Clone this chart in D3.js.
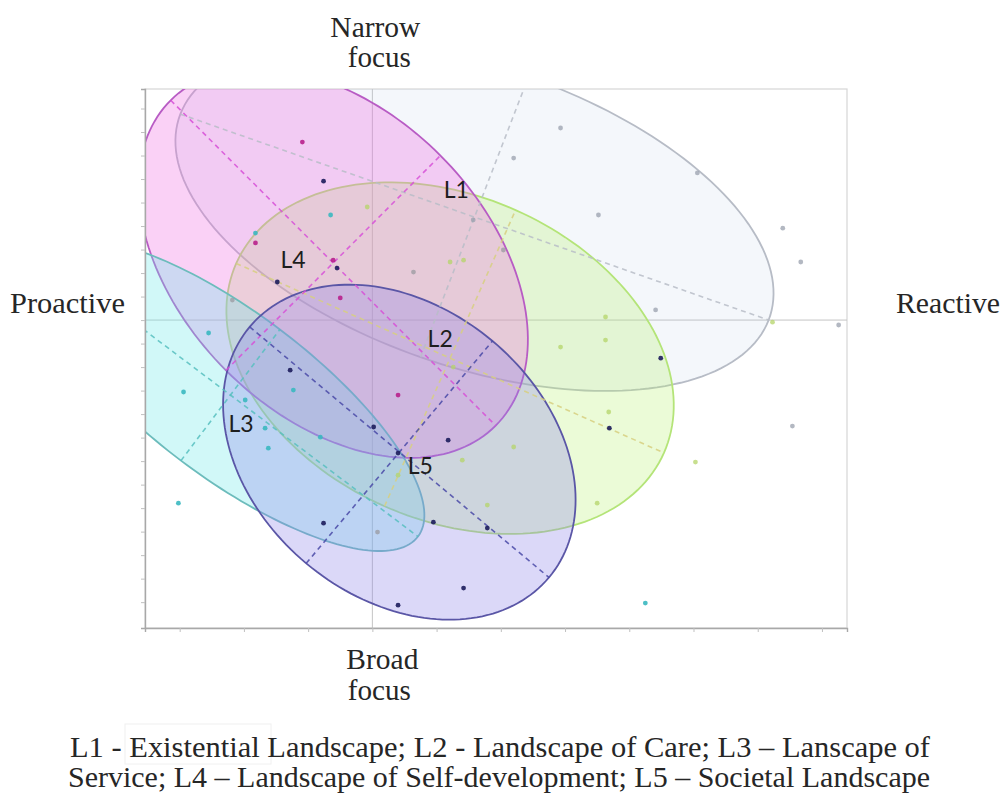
<!DOCTYPE html>
<html>
<head>
<meta charset="utf-8">
<script src="https://cdn.jsdelivr.net/npm/d3@7"></script>
<style>
  html, body { margin: 0; padding: 0; background: #ffffff; }
  svg { display: block; }
</style>
</head>
<body>
<svg id="chart" width="1003" height="796"></svg>
<script>
// ---------------- DATA ----------------
const ellipseNames = ["L1", "L2", "L3", "L4", "L5"];
const ellipseCx    = [1.59, 1.21, -2.21, -0.61, 0.42];
const ellipseCy    = [4.38, -1.62, -3.19, 2.43, -5.62];
const majorDx      = [4.58, 3.33, 2.92, 2.53, 2.33];
const majorDy      = [-4.38, -4.03, -6.02, -6.92, -5.33];
const minorDx      = [0.84, 1.02, 0.77, 1.67, 1.45];
const minorDy      = [5.96, 6.30, 2.79, 4.57, 4.73];
const labelX       = [1.11, 0.86, -2.24, -1.43, 0.55];
const labelY       = [5.19, -1.15, -4.77, 2.21, -6.55];

const pointsL1 = [[2.93,8.17],[2.20,6.89],[5.06,6.26],[3.52,4.47],[6.39,3.91],[6.67,2.47],[4.41,0.43],[7.26,-0.21],[6.54,-4.51],[1.57,4.26]];
const pointsL2 = [[3.63,0.13],[6.23,-0.09],[2.93,-1.15],[3.63,-0.85],[3.68,-3.91],[5.03,-6.04],[3.50,-7.79],[2.20,-5.40],[1.26,-2.00],[1.40,-5.96],[0.40,-6.60],[1.79,-7.87],[1.21,2.47],[1.42,2.55],[-0.08,4.81]];
const pointsL3 = [[-2.55,-0.55],[-2.94,-3.06],[-1.98,-3.40],[-1.23,-2.98],[-0.81,-4.98],[-1.62,-5.45],[-3.02,-7.79],[4.25,-12.04],[-0.65,4.47],[-1.82,3.70],[-1.67,-4.60]];
const pointsL4 = [[-1.09,7.57],[-0.61,2.55],[-0.50,0.94],[0.40,-3.19],[-1.82,3.28]];
const pointsL5 = [[-0.76,5.91],[-1.48,1.62],[-0.55,2.21],[-1.28,-2.13],[0.02,-4.55],[0.40,-5.66],[1.18,-5.11],[-0.76,-8.64],[0.95,-8.60],[1.79,-8.85],[3.69,-4.60],[0.40,-12.13],[1.42,-11.40],[4.49,-1.62]];
const pointsOther = [[-2.18,0.85],[0.64,2.04],[2.04,2.98],[0.08,-9.02]];

const xTicks = [-3,-2,-1,0,1,2,3,4,5,6,7];
const yTicks = [-12,-11,-10,-9,-8,-7,-6,-5,-4,-3,-2,-1,0,1,2,3,4,5,6,7,8,9];

const axisTop = "Narrow|focus";
const axisBottom = "Broad|focus";
const axisLeft = "Proactive";
const axisRight = "Reactive";
const captionLines = [
  "L1 - Existential  Landscape; L2 - Landscape of Care; L3 \u2013 Lanscape of",
  "Service; L4 \u2013 Landscape of Self-development; L5 \u2013 Societal Landscape"
];

// ---------------- STYLE ----------------
const fillColors   = ["#b4c4e0", "#b8f070", "#66e8e8", "#ee66e0", "#8e86e8"];
const fillOpacity  = [0.14, 0.28, 0.30, 0.30, 0.32];
const strokeColors = ["#b7bcc6", "#b4e478", "#6cbcbc", "#b85cc4", "#5a56a6"];
const dashColors   = ["#b9bec8", "#d8d080", "#58c0c0", "#d850d8", "#4a4aa8"];
const dotColors    = ["#9aa0ae", "#b4d468", "#3ab8c0", "#b8208c", "#1c1c5c", "#9a9aa0"];

const svg = d3.select("#chart");
const L = 145, T = 89, R = 847, B = 628;

const x = d3.scaleLinear().domain([-3.54, 7.39]).range([L, R]);
const y = d3.scaleLinear().domain([-13.1, 9.83]).range([B, T]);

svg.append("defs").append("clipPath").attr("id", "plotclip")
  .append("rect").attr("x", L).attr("y", T).attr("width", R - L).attr("height", B - T);

// frame
svg.append("rect").attr("x", L).attr("y", T).attr("width", R - L).attr("height", B - T)
  .attr("fill", "#ffffff").attr("stroke", "#d6d6d6").attr("stroke-width", 1.2);

const g = svg.append("g").attr("clip-path", "url(#plotclip)");

// zero lines
g.append("line").attr("x1", x(0)).attr("x2", x(0)).attr("y1", T).attr("y2", B)
  .attr("stroke", "#c4c4c4").attr("stroke-width", 1);
g.append("line").attr("x1", L).attr("x2", R).attr("y1", y(0)).attr("y2", y(0))
  .attr("stroke", "#c4c4c4").attr("stroke-width", 1);

// ellipses
const order = [0, 1, 3, 2, 4];
const line = d3.line().x(d => x(d[0])).y(d => y(d[1])).curve(d3.curveLinearClosed);
function ellipsePts(i) {
  const pts = [];
  for (let k = 0; k < 180; k++) {
    const t = 2 * Math.PI * k / 180;
    pts.push([
      ellipseCx[i] + majorDx[i] * Math.cos(t) + minorDx[i] * Math.sin(t),
      ellipseCy[i] + majorDy[i] * Math.cos(t) + minorDy[i] * Math.sin(t)
    ]);
  }
  return pts;
}
order.forEach(i => {
  g.append("path").attr("d", line(ellipsePts(i)))
    .attr("fill", fillColors[i]).attr("fill-opacity", fillOpacity[i])
    .attr("stroke", strokeColors[i]).attr("stroke-width", 1.8);
});
// dashed axes
order.forEach(i => {
  [[majorDx[i], majorDy[i]], [minorDx[i], minorDy[i]]].forEach(v => {
    g.append("line")
      .attr("x1", x(ellipseCx[i] - v[0])).attr("y1", y(ellipseCy[i] - v[1]))
      .attr("x2", x(ellipseCx[i] + v[0])).attr("y2", y(ellipseCy[i] + v[1]))
      .attr("stroke", dashColors[i]).attr("stroke-width", 1.6)
      .attr("stroke-dasharray", "5,4").attr("opacity", 0.85);
  });
});

// points
const groups = [pointsL1, pointsL2, pointsL3, pointsL4, pointsL5, pointsOther];
groups.forEach((pts, gi) => {
  g.selectAll(null).data(pts).enter().append("circle")
    .attr("cx", d => x(d[0])).attr("cy", d => y(d[1])).attr("r", 2.4)
    .attr("fill", dotColors[gi]).attr("opacity", gi === 0 || gi === 1 || gi === 5 ? 0.75 : 0.9);
});

// axes ticks (no labels)
const ax = svg.append("g").attr("transform", `translate(0,${B})`)
  .call(d3.axisBottom(x).tickValues(xTicks).tickSize(4).tickFormat(""));
const ay = svg.append("g").attr("transform", `translate(${L},0)`)
  .call(d3.axisLeft(y).tickValues(yTicks).tickSize(4).tickFormat(""));
[ax, ay].forEach(a => {
  a.select(".domain").attr("stroke", "#a8a8a8").attr("stroke-width", 1.4);
  a.selectAll(".tick line").attr("stroke", "#c0c0c0");
});

// landscape labels
ellipseNames.forEach((n, i) => {
  svg.append("text").attr("x", x(labelX[i])).attr("y", y(labelY[i]))
    .attr("font-family", "Lato, 'Open Sans', sans-serif").attr("font-size", 23)
    .attr("fill", "#1e1e1e").text(n);
});

// outer labels
const serif = "'Liberation Serif', 'DejaVu Serif', serif";
function txt(str, px, py, anchor, len) {
  const t = svg.append("text").attr("x", px).attr("y", py)
    .attr("font-family", serif).attr("font-size", 29).attr("fill", "#262626")
    .attr("text-anchor", anchor).text(str);
  if (len) t.attr("textLength", len).attr("lengthAdjust", "spacingAndGlyphs");
  return t;
}
const cx0 = x(0);
txt(axisTop.split("|")[0], cx0 + 3, 37, "middle", 90);
txt(axisTop.split("|")[1], cx0 + 7, 67, "middle", 63);
txt(axisBottom.split("|")[0], cx0 + 10, 669, "middle", 72);
txt(axisBottom.split("|")[1], cx0 + 7, 700, "middle", 63);
txt(axisLeft, 10, 313, "start", 115);
txt(axisRight, 896, 313, "start", 104);

// caption
svg.append("rect").attr("x", 125).attr("y", 724).attr("width", 146).attr("height", 40)
  .attr("fill", "none").attr("stroke", "#f0f0f0").attr("stroke-width", 1);
txt(captionLines[0], 70, 757, "start", 860);
txt(captionLines[1], 68, 787, "start", 862);
</script>
</body>
</html>
